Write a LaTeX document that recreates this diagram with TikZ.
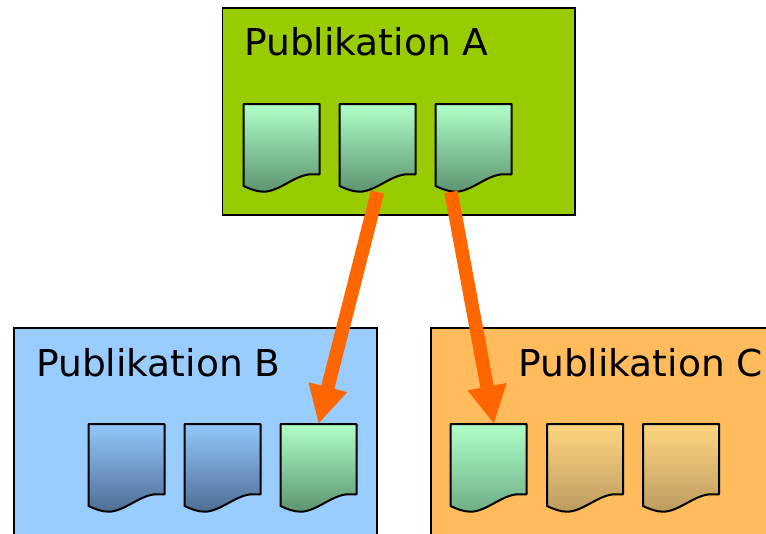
\documentclass[tikz,border=0pt]{standalone}
\usepackage{fontspec}
\setmainfont[FakeStretch=1.016]{DejaVu Sans}
\usetikzlibrary{arrows.meta,calc}
\definecolor{pubA}{HTML}{99CC00}
\definecolor{pubB}{HTML}{99CCFF}
\definecolor{pubC}{HTML}{FFBB5C}
\definecolor{arrowor}{HTML}{FF6600}
\definecolor{HTMLgreenT}{HTML}{B0FFC8}
\definecolor{HTMLgreenB}{HTML}{5C9470}
\definecolor{HTMLgreenC}{HTML}{6FAE86}
\definecolor{HTMLblueT}{HTML}{93C7FA}
\definecolor{HTMLblueB}{HTML}{4D6E96}
\definecolor{HTMLorT}{HTML}{FFD580}
\definecolor{HTMLorB}{HTML}{BC9C60}
\tikzset{
  x=1pt,y=-1pt,
  pubbox/.style={draw=black,line width=1.9pt,inner sep=0pt,outer sep=0pt,anchor=north west},
  pubtitle/.style={inner sep=0pt,anchor=base west,font=\fontsize{37}{37}\selectfont,text=black},
  docbox/.style={inner sep=0pt,outer sep=0pt,minimum width=76pt,minimum height=88pt,anchor=north west},
  docline/.style={draw=black,line width=2pt,line join=round},
  greenA/.style={top color=HTMLgreenT,bottom color=HTMLgreenB},
  greenC/.style={top color=HTMLgreenT,bottom color=HTMLgreenC},
  blueD/.style={top color=HTMLblueT,bottom color=HTMLblueB},
  orangeD/.style={top color=HTMLorT,bottom color=HTMLorB},
  link/.style={draw=arrowor,line width=13.5pt,-{Triangle[length=38pt,width=37pt]}},
}
\newcommand{\docu}[4]{%
  \node[docbox] (#1) at (#2,#3) {};
  \path[docline,#4,shift={(#2,#3)}] (0,0) -- (76,0) -- (76,70.3) -- (68,70.3)
    .. controls (52,70.3) and (36,87.7) .. (20,87.7)
    .. controls (13,87.7) and (6,84.8) .. (0,82) -- cycle;
}
\begin{document}
\begin{tikzpicture}
\useasboundingbox (0,0) rectangle (766,533);
\clip (0,0) rectangle (766,533);
\node[pubbox,fill=pubA,minimum width=352.5pt,minimum height=207pt] (boxA) at (222.5,7.7) {};
\node[pubbox,fill=pubB,minimum width=363pt,minimum height=230pt] (boxB) at (14,327.7) {};
\node[pubbox,fill=pubC,minimum width=360pt,minimum height=230pt] (boxC) at (430.8,327.7) {};
\node[pubtitle] (titleA) at (244,55) {Publikation A};
\node[pubtitle] (titleB) at (36,376) {Publikation B};
\node[pubtitle] (titleC) at (518,376) {Publikation C};
\docu{a1}{243.5}{104}{greenA}
\docu{a2}{339.5}{104}{greenA}
\docu{a3}{435.5}{104}{greenA}
\docu{b1}{88.5}{424}{blueD}
\docu{b2}{184.5}{424}{blueD}
\docu{b3}{280.5}{424}{greenA}
\docu{c1}{450.5}{424}{greenC}
\docu{c2}{547}{424}{orangeD}
\docu{c3}{643}{424}{orangeD}
\draw[link] (a2.south) -- (b3.north);
\draw[link] ($(a3.south)+(-22.5,0)$) -- ($(c1.north)+(5.5,0)$);
\end{tikzpicture}
\end{document}
